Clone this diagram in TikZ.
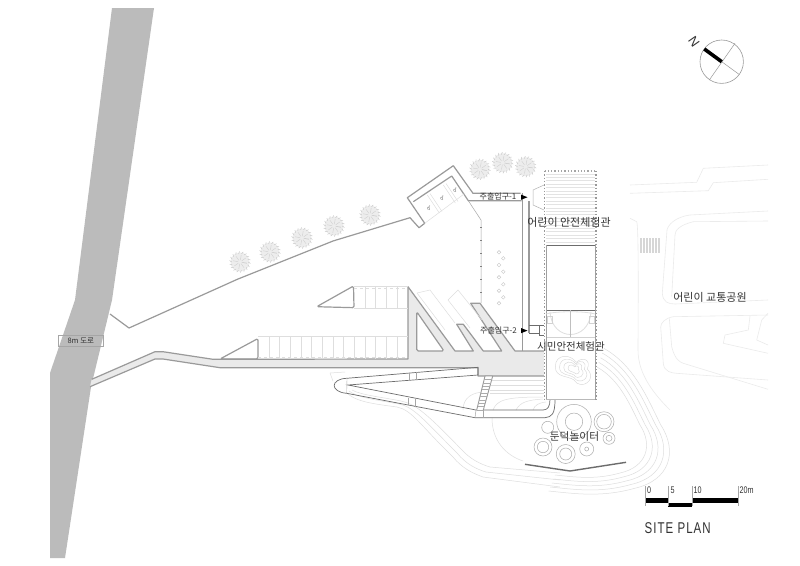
\documentclass[tikz,border=0pt]{standalone}
\usepackage{fontspec}
\newfontfamily\krfont{Noto Sans CJK KR}
\newfontfamily\djvfont{DejaVu Sans}
\setsansfont{Liberation Sans}
\usetikzlibrary{calc}
\definecolor{roadgray}{HTML}{BBBBBB}
\definecolor{wallgray}{HTML}{9A9A9A}
\definecolor{plazagray}{HTML}{EAEAEA}
\definecolor{contour}{HTML}{DEDEDE}
\definecolor{parkline}{HTML}{EBEBEB}
\definecolor{labelgray}{HTML}{333333}
\tikzset{
  wall/.style={draw=wallgray,line width=1.2pt,line join=round},
  thin wall/.style={draw=wallgray!70!black,line width=.7pt},
  faint/.style={draw=contour,line width=.5pt},
  parkln/.style={draw=parkline,line width=.6pt},
  lab/.style={font=\krfont\fontsize{11}{12}\selectfont,text=labelgray,inner sep=0pt},
  smalllab/.style={font=\krfont\fontsize{8}{9}\selectfont,text=labelgray,inner sep=0pt},
  disabled/.style={font=\djvfont\fontsize{6}{7}\selectfont,text=gray,inner sep=0pt,rotate=-35},
  playcircle/.style={draw=gray!65,line width=.5pt},
  scale lab/.style={font=\sffamily\fontsize{8}{9}\selectfont,text=labelgray,inner sep=0pt,anchor=west},
}
\newcommand{\treeat}[2]{%
  \fill[gray!14] (#1,#2) circle (9.5);
  \foreach \a in {0,20,...,340}{\draw[gray!45,line width=.45pt] ($(#1,#2)+(\a:8.2)$)--($(#1,#2)+(\a+8:10.6)$);}
  \foreach \a in {10,55,...,370}{\draw[gray!38,line width=.4pt] ($(#1,#2)+(\a:2)$)--($(#1,#2)+(\a:7)$);}
}
\begin{document}
\begin{tikzpicture}[x=1pt,y=-1pt]
\useasboundingbox (0,0) rectangle (800,565);
\fill[white] (0,0) rectangle (800,565);
% road
\fill[roadgray] (112,8)--(154,8)--(112,300)--(91,387)--(65,558)--(50,558)--(50,373)--(75,300)--cycle;
% access line and parking
\draw[wall] (110,314)--(129,328)--(238,279)--(333,241)--(410,217.7)--(419,227.7)--(424.7,223.3)--(407.3,197.7)--(453.3,165.7)--(473,193.3)--(520.7,193.3);
\draw[wall] (413.3,201.7)--(451.7,176)--(468.3,200.7)--(521.7,200.7);
\draw[faint] (424.7,223.3)--(465,193.3);
\foreach \p/\q in {427.3/195,430/193.5,443.3/185,446/183.5}{\draw[faint] (\p,\q)--++(12,18);}
\node[disabled] (hc1) at (429.3,208.3) {♿};
\node[disabled] (hc2) at (442.7,198.3) {♿};
\node[disabled] (hc3) at (455.7,190) {♿};
% dotted edge
\draw[gray!70,line width=.5pt] (468.3,200.7)--(481,220)--(481,303);
\foreach \y in {227,240,...,303}{\draw[gray,line width=.6pt] (480,\y)--(482,\y);}
\foreach \x/\y in {499/252.3,503.3/258.3,499/265,503.3/271.7,499/277.3,503.3/284.3,499/290.7,503.3/297.3,499/303.3}{\draw[gray!45,line width=.4pt] (\x,\y) circle (1.8);}
% contours
\draw[faint] (330,373)--(333,381) (330,373)--(345,372);
\draw[faint] (346,392) .. controls (355,402) and (375,404) .. (397,407) .. controls (412,410) and (420,425) .. (453,457) .. controls (462,468) and (472,473) .. (483,477)--(560,487);
\draw[faint] (349,391) .. controls (358,398) and (378,400) .. (399,404) .. controls (414,407) and (424,420) .. (457,453) .. controls (466,464) and (476,469) .. (486,472)--(560,480);
\draw[faint] (352,390) .. controls (361,395) and (381,397) .. (401,401) .. controls (416,404) and (428,415) .. (461,449) .. controls (470,459) and (480,464) .. (490,467)--(560,473);
\draw[faint] (463,410) .. controls (463,398) and (472,392) .. (485,392);
\draw[faint] (492,418) .. controls (492,440) and (505,455) .. (523,461);
\draw[faint] (493,410) .. controls (497,400) and (505,397) .. (543,397);
\draw[faint] (516,410) .. controls (520,402) and (528,400) .. (543,399);
\draw[faint] (533,410) .. controls (535,405) and (538,403) .. (546,402);
\foreach \y in {380,385,390,393}{\draw[faint] (490,\y)--(544,\y);}
\foreach \s in {1,1.08,1.16,1.24,1.32}{
\begin{scope}[shift={(575,425)},scale=\s]
  \draw[faint] (22,-58) .. controls (45,-45) and (55,-20) .. (65,0) .. controls (78,20) and (72,42) .. (45,48) .. controls (20,55) and (0,52) .. (-20,50);
\end{scope}
}
% plaza fill
\fill[plazagray,draw=none] (91.7,379.3)--(155,351.7)--(163,351.7)--(213,359.3)--(408,359)--(408,286.7)--(455,351)--(473.3,351)--(456.7,324.3)--(463.3,324.3)--(483.3,351)--(501.7,351)--(470.7,303.3)--(480,303.3)--(515,351)--(544,351)--(544,376)--(478,376)--(478,367.7)--(220,367.7)--(163,359)--(155,359)--(90,386.7)--cycle;
\fill[white] (416.7,311.7)--(416.7,351)--(444,351)--cycle;
% plaza edges
\draw[wall] (91.7,379.3)--(155,351.7)--(163,351.7)--(213,359.3)--(408,359)--(408,286.7)--(455,351)--(473.3,351)--(456.7,324.3)--(463.3,324.3)--(483.3,351)--(501.7,351)--(470.7,303.3)--(480,303.3)--(515,351)--(544,351);
\draw[wall] (90,386.7)--(155,359)--(163,359)--(220,367.7)--(478,367.7)--(478,376)--(544,376);
\draw[wall,rounded corners=1.5pt] (416.7,311.7)--(416.7,351)--(444,351)--cycle;
\draw[wall,rounded corners=1.5pt] (316.7,306.7)--(353.5,286)--(354,307.7)--cycle;
\draw[wall,rounded corners=1.5pt] (220,359)--(258,338.5)--(258,359)--cycle;
% parking grids
\draw[faint] (354,286)--(408,286) (354,308)--(408,308);
\draw[faint,dashed] (354,288.5)--(408,288.5) (258,357)--(408,357);
\foreach \x in {365,375.7,386.7,397.7}{\draw[faint] (\x,286)--(\x,308);}
\draw[faint] (258,336)--(408,336);
\foreach \x in {269,279.6,290.3,301,311.6,322.3,333,343.6,354.3,365,375.6,386.3,397}{\draw[faint] (\x,336)--(\x,359);}
\draw[faint] (417,293)--(430,290)--(455,323);
\draw[faint] (448,300)--(458,290)--(482,320);
\draw[faint] (417,293)--(445,330) (448,300)--(470,328);
% pier
\draw[thin wall] (346.7,378.3)--(478,367.3)--(478,375)--(348,385)--(476,410)--(543,410) .. controls (548,410) and (550,406) .. (550,399.3);
\draw[thin wall] (346.7,378.3) .. controls (330,379) and (330,392) .. (346.7,393.3)--(475,417.7)--(545,417.7) .. controls (552,417) and (555,414) .. (555,399.3);
\draw[gray!60,line width=.4pt] (347,378.5)--(346.7,393.3);
\foreach \a/\b/\c/\d in {409.3/372.7/409.3/380.7,416.7/371.7/416.7/380,408.3/397.7/408.3/405,415/399.3/415/406.7,476/410/475/417.7,483.3/410/483.3/417.7}{\draw[gray!70,line width=.5pt] (\a,\b)--(\c,\d);}
% stair
\fill[white] (485,376)--(492.7,376)--(483.3,410)--(476.7,410)--cycle;
\draw[wall,line width=.9pt] (485,376)--(476.7,410) (492.7,376)--(483.3,410) (485,376)--(492.7,376);
\foreach \t in {.1,.2,...,1.01}{\draw[gray!65,line width=.6pt] ($(485,376)!\t!(476.7,410)$)--($(492.7,376)!\t!(483.3,410)$);}
% double walkway
\draw[wall] (522.3,193.3)--(522.3,351);
\draw[wall] (529,201)--(529,333);
\draw[thin wall] (529,325)--(539.3,325)--(539.3,333)--(529,333);
\draw[thin wall] (539.3,325)--(544,325) (539.3,335)--(544,335) (539.3,325)--(539.3,335);
\draw[gray!60,line width=.5pt] (544,185)--(533,190)--(533,205)--(544,210);
% building
\fill[white] (544,171) rectangle (596.5,399);
\foreach \y in {174,177.4,...,245}{\draw[gray!22,line width=1pt] (546,\y)--(595,\y);}
\draw[thin wall] (546,245)--(595,245) (546,310)--(595,310);
\draw[gray!35,line width=.5pt] (546,337)--(595,337);
\draw[gray!55,line width=.5pt] (546,399)--(595,399);
\draw[gray!70,line width=1.3pt,dotted] (544.5,171)--(596,171);
\draw[gray!80,line width=1.3pt,dotted] (544.5,171)--(544.5,399);
\draw[gray!80,line width=1.3pt,dotted] (596,171)--(596,399);
\draw[gray!75,line width=.5pt] (546.5,245)--(546.5,399) (595,245)--(595,399);
\draw[faint,line width=.8pt] (546,314) .. controls (556,311) and (585,311) .. (595,314);
\draw[faint,line width=.8pt] (550,312) .. controls (552,342) and (589,342) .. (591,312);
\draw[gray!50,line width=.4pt] (570.5,310)--(570.5,337);
\draw[gray!35,line width=.5pt] (547,316) rectangle (552,323) (589,316) rectangle (594,323);
% sculpture contours
\foreach \s in {1.1,.85,.6,.35}{
  \draw[gray!32,line width=.4pt] ($(574,369)+(-17*\s,-2*\s)$) .. controls ($(574,369)+(-17*\s,-14*\s)$) and ($(574,369)+(-3*\s,-14*\s)$) .. ($(574,369)+(2*\s,-6*\s)$) .. controls ($(574,369)+(8*\s,-12*\s)$) and ($(574,369)+(16*\s,-8*\s)$) .. ($(574,369)+(12*\s,0)$) .. controls ($(574,369)+(22*\s,10*\s)$) and ($(574,369)+(6*\s,20*\s)$) .. ($(574,369)+(0*\s,10*\s)$) .. controls ($(574,369)+(-5*\s,6*\s)$) and ($(574,369)+(-17*\s,8*\s)$) .. ($(574,369)+(-17*\s,-2*\s)$);
}
% playground
\foreach \x/\y/\r in {574/421.7/17.3,574/421.7/8.7,604/421.7/10,604/421.7/7.3,547.7/427.3/6,543/447/9,543/447/5.7,565.7/454/9.5,565.7/454/6,586.7/449/7,586.7/449/2,609/438.3/6,609/438.3/3}{\draw[playcircle] (\x,\y) circle (\r);}
\draw[gray!85!black,line width=1.4pt] (525,464.3)--(570,471)--(626,462.3);
% trees
\treeat{240}{262}\treeat{270}{252}\treeat{302}{238}\treeat{334}{226}\treeat{370}{215}
\treeat{480}{169.3}\treeat{502.7}{162.7}\treeat{525.7}{166.7}
% traffic park
\draw[parkln] (630,185)--(696.7,182.3)--(703.3,168.3)--(768,165);
\draw[parkln] (630,193.3)--(708.3,190.7)--(713.3,182.7)--(768,179.3);
\draw[parkln] (630,218.3)--(636.7,221.7) .. controls (639,225) and (638,330) .. (638,350) .. controls (638,375) and (655,395) .. (670,410);
\draw[parkln] (768,211)--(690,215) .. controls (675,217) and (668,225) .. (667,230)--(662.3,293.3) .. controls (663,302) and (668,304) .. (675,304)--(768,300);
\draw[parkln] (768,221)--(693.3,221.7) .. controls (680,225) and (675,230) .. (675,235)--(671.7,296.7);
\draw[parkln] (768,315)--(673.3,316.7) .. controls (665,318) and (660.7,323) .. (660.7,327)--(663.3,363.3) .. controls (664,372) and (672,373) .. (676.7,373.3)--(768,380);
\draw[parkln] (669.3,318.3)--(671.7,346.7) .. controls (675,360) and (680,362) .. (683.3,363.3)--(768,389.3);
\draw[parkln] (750,316)--(748.3,330)--(725,335)--(723.3,343.3)--(768,353.3);
\draw[parkln] (768,313.3)--(761.7,320)--(756.7,340)--(768,345);
\foreach \x in {641,644,...,659}{\draw[gray!32,line width=1.2pt] (\x,238)--(\x,252.7);}
% entrance arrows
\fill[black] (521,194.6)--(527.5,197.2)--(521,199.8)--cycle;
\fill[black] (521,328)--(527.5,330.6)--(521,333.2)--cycle;
% labels
\node[smalllab] (ent1) at (498,196.5) {주출입구-1};
\node[smalllab] (ent2) at (498.5,330.5) {주출입구-2};
\node[lab] (kids) at (569,222) {어린이 안전체험관};
\node[lab,font=\krfont\fontsize{10.5}{12}\selectfont] (citizen) at (571,346.5) {시민안전체험관};
\node[lab,font=\krfont\fontsize{10.7}{12}\selectfont] (mound) at (574.5,436.7) {둔덕놀이터};
\node[lab] (trafficpark) at (710,297.7) {어린이 교통공원};
\node[draw=gray!70,line width=.4pt,minimum width=45pt,minimum height=11.5pt,inner sep=0pt,font=\krfont\fontsize{7.5}{8}\selectfont,text=labelgray] (road) at (80.8,340.8) {8m 도로};
% compass
\coordinate (cc) at (721.7,61.7);
\draw[gray!80,line width=.6pt] (cc) circle (21.7);
\draw[gray!80,line width=.5pt] (735,43.3)--(709.3,80);
\draw[gray!80,line width=.5pt] (cc)--(739,74.3);
\draw[black,line width=3.6pt] (cc)--(704.3,49);
\node[inner sep=0pt,rotate=-55,font=\sffamily\fontsize{13}{14}\selectfont,text=labelgray] (north) at (694,41.7) {N};
% scale
\fill[black] (645.3,498.3) rectangle (668.3,502.7);
\fill[black] (668.3,502.7) rectangle (691.7,506.7);
\fill[black] (691.7,498.3) rectangle (737.7,502.7);
\foreach \x in {645.3,668.3,691.7,737.7}{\draw[gray!70,line width=.4pt] (\x,486)--(\x,506);}
\node[scale lab] (s0) at (647,490.5) {\scalebox{.9}[1.2]{0}};
\node[scale lab] (s5) at (670.5,490.5) {\scalebox{.9}[1.2]{5}};
\node[scale lab] (s10) at (693.5,490.5) {\scalebox{.9}[1.2]{10}};
\node[scale lab] (s20) at (739.5,490.5) {\scalebox{.9}[1.2]{20m}};
\node[inner sep=0pt,anchor=west,font=\sffamily\fontsize{12.5}{14}\selectfont,text=labelgray] (title) at (644.5,528) {\scalebox{.92}[1.25]{\addfontfeature{LetterSpace=9}SITE PLAN}};
\end{tikzpicture}
\end{document}
